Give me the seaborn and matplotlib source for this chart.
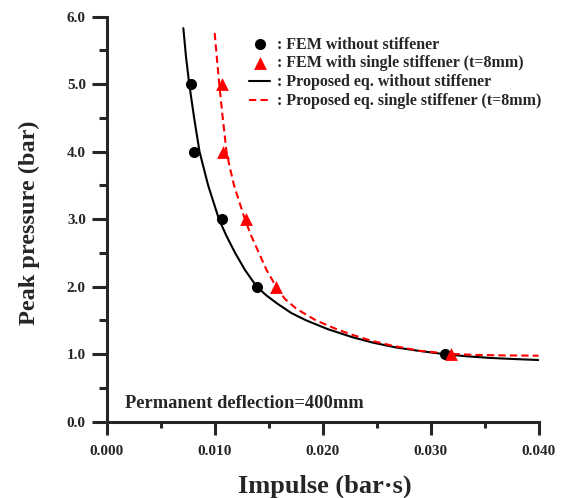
import matplotlib
matplotlib.use("Agg")
import matplotlib.pyplot as plt
import seaborn as sns
from matplotlib.ticker import MultipleLocator, FormatStrFormatter

# FEM results (impulse in bar*s, peak pressure in bar)
fem_plain_impulse = [0.0078, 0.0081, 0.01065, 0.0139, 0.0313]
fem_plain_pressure = [5.0, 4.0, 3.0, 2.0, 1.0]
fem_stiff_impulse = [0.01065, 0.0108, 0.0129, 0.0157, 0.03185]
fem_stiff_pressure = [5.0, 4.0, 3.0, 2.0, 1.0]

# proposed equation curves
eq_plain_impulse = [0.0071, 0.00735, 0.00765, 0.0081, 0.0086, 0.0090, 0.0094, 0.0099,
                    0.0104, 0.0111, 0.0119, 0.0128, 0.0139, 0.0148, 0.0158, 0.0171,
                    0.0185, 0.0205, 0.0228, 0.0247, 0.0268, 0.0289, 0.0313, 0.0333,
                    0.0355, 0.0378, 0.0400]
eq_plain_pressure = [5.83, 5.4, 5.0, 4.5, 4.0, 3.75, 3.5, 3.25,
                     3.0, 2.75, 2.5, 2.25, 2.0, 1.87, 1.75, 1.61,
                     1.5, 1.37, 1.25, 1.17, 1.1, 1.05, 1.0, 0.97,
                     0.945, 0.928, 0.914]
eq_stiff_impulse = [0.0100, 0.0102, 0.01043, 0.01075, 0.0111, 0.01143, 0.0118, 0.0123,
                    0.0128, 0.0134, 0.0141, 0.0148, 0.0157, 0.0165, 0.0176, 0.0194,
                    0.0210, 0.0225, 0.0245, 0.0265, 0.0290, 0.0319, 0.0340, 0.0370,
                    0.0400]
eq_stiff_pressure = [5.76, 5.4, 5.0, 4.5, 4.0, 3.75, 3.5, 3.25,
                     3.0, 2.75, 2.5, 2.25, 2.0, 1.82, 1.67, 1.5,
                     1.39, 1.30, 1.20, 1.125, 1.05, 1.005, 0.99, 0.982,
                     0.978]

labels = [": FEM without stiffener",
          ": FEM with single stiffener (t=8mm)",
          ": Proposed eq. without stiffener",
          ": Proposed eq. single stiffener (t=8mm)"]

sns.set_style("ticks")
plt.rcParams['font.family'] = ['Liberation Serif', 'DejaVu Serif']
plt.rcParams['font.weight'] = 'bold'

fig = plt.figure(figsize=(5.63, 4.98), dpi=100)
ax = fig.add_axes([0.1895, 0.1532, 0.767, 0.8133])

sns.lineplot(x=eq_plain_impulse, y=eq_plain_pressure, sort=False, estimator=None,
             color='black', linewidth=1.5, label=labels[2], ax=ax)
sns.lineplot(x=eq_stiff_impulse, y=eq_stiff_pressure, sort=False, estimator=None,
             color='red', linewidth=1.5, linestyle=(0, (3.5, 2)), label=labels[3], ax=ax)
sns.scatterplot(x=fem_plain_impulse, y=fem_plain_pressure, marker='o', s=64,
                color='black', linewidth=0, label=labels[0], ax=ax, zorder=3)
sns.scatterplot(x=fem_stiff_impulse, y=fem_stiff_pressure, marker='^', s=85,
                color='red', linewidth=0, label=labels[1], ax=ax, zorder=3)

ax.set_xlim(0, 0.040)
ax.set_ylim(0, 6.0)
ax.xaxis.set_major_locator(MultipleLocator(0.010))
ax.xaxis.set_minor_locator(MultipleLocator(0.005))
ax.yaxis.set_major_locator(MultipleLocator(1.0))
ax.yaxis.set_minor_locator(MultipleLocator(0.5))
ax.xaxis.set_major_formatter(FormatStrFormatter('%.3f'))
ax.yaxis.set_major_formatter(FormatStrFormatter('%.1f'))

sns.despine(ax=ax)
for side in ['left', 'bottom']:
    ax.spines[side].set_linewidth(2.2)
ax.tick_params(axis='both', which='both', direction='out', width=2.2, labelsize=11)
ax.tick_params(axis='y', which='major', length=11, pad=4)
ax.tick_params(axis='y', which='minor', length=5.5)
ax.tick_params(axis='x', which='major', length=9, pad=8)
ax.tick_params(axis='x', which='minor', length=4.5)
for lab in ax.get_xticklabels() + ax.get_yticklabels():
    lab.set_fontweight('bold')

ax.set_xlabel('Impulse (bar\u00b7s)', fontsize=19, fontweight='bold')
ax.set_ylabel('Peak pressure (bar)', fontsize=17.5, fontweight='bold')
ax.xaxis.set_label_coords(0.505, -0.131)
ax.yaxis.set_label_coords(-0.155, 0.49)

ax.text(0.0017, 0.21, 'Permanent deflection=400mm', fontsize=13.3,
        fontweight='bold', va='baseline', ha='left')

handles, labs = ax.get_legend_handles_labels()
order = [labs.index(l) for l in labels]
ax.legend([handles[i] for i in order], [labs[i] for i in order],
          loc='upper left', bbox_to_anchor=(0.33, 0.951), frameon=False,
          borderpad=0, borderaxespad=0, handlelength=1.3, handletextpad=0.45,
          labelspacing=0.18, prop={'family': 'Liberation Serif', 'weight': 'bold', 'size': 11.5})

fig.savefig('out.png', dpi=100)
